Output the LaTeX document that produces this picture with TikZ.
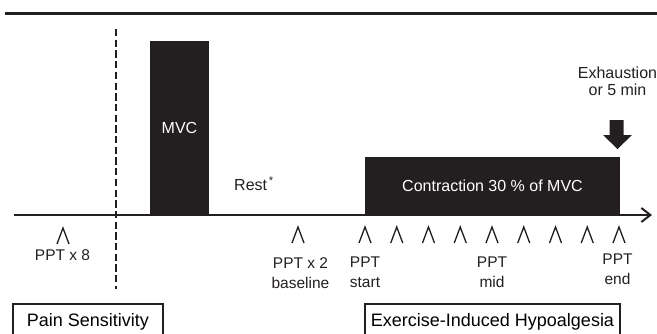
\documentclass[tikz,border=0pt]{standalone}
\usepackage{fontspec}
\setmainfont{Liberation Sans}
\usetikzlibrary{arrows.meta}

\definecolor{ink}{HTML}{231F20}

\def\base{215}
\def\gap{31.75}

\tikzset{
  block/.style = {fill=ink, text=white, inner sep=0pt, font=\fontsize{16}{18}\selectfont},
  phase/.style = {draw=ink, line width=2pt, inner sep=0pt, minimum height=36pt, font=\fontsize{18}{20}\selectfont},
  lbl/.style = {text=ink, inner sep=0pt, align=center, font=\fontsize{15.5}{20}\selectfont},
  caret/.style = {draw=ink, line width=1.3pt},
}

\begin{document}
\begin{tikzpicture}[x=1pt, y=-1pt]
  \useasboundingbox (0,0) rectangle (657,333);
  \clip (0,0) rectangle (657,333);

  % rule at the top
  \coordinate (r0) at (5,13);
  \coordinate (r1) at (657,13);
  \draw[ink, line width=3pt] (r0) -- (r1);

  % blocks
  \node[block, minimum width=59pt, minimum height=174pt] (mvc) at (179.5,128) {MVC};
  \node[block, minimum width=255pt, minimum height=58pt] (con) at (492.5,186) {Contraction 30 \% of MVC};
  \node[lbl, anchor=west, font=\fontsize{16}{18}\selectfont] (rest) at (234,184) {Rest\textsuperscript{\,*}};

  % time axis
  \coordinate (t0) at (14,\base);
  \coordinate (t1) at (652,\base);
  \draw[ink, line width=2pt, -{Straight Barb[length=9pt,width=14pt]}] (t0) -- (t1);

  % split
  \coordinate (d0) at (116,29);
  \coordinate (d1) at (116,289);
  \draw[ink, line width=2.6pt, dash pattern=on 7.3pt off 3.4pt] (d0) -- (d1);

  % end of contraction
  \node[lbl, anchor=north, font=\fontsize{16}{17}\selectfont] (exh) at (617.5,66.5) {Exhaustion\\or 5 min};
  \coordinate (stop) at (617.5,149);
  \fill[ink, shift={(stop)}] (-8,-29) -- (6,-29) -- (6,-14) -- (14.5,-14) -- (0,0) -- (-14.5,-14) -- (-8,-14) -- cycle;

  % pressure pain thresholds
  \coordinate (p8) at (63,228);
  \coordinate (pb) at (298,227);
  \foreach \i in {0,...,8}{
    \pgfmathparse{365+\i*\gap}
    \let\cx\pgfmathresult
    \coordinate (c\i) at (\cx,227);
    \draw[caret] ([shift={(-6,16)}]c\i) -- (c\i) -- ([shift={(6,16)}]c\i);
  }
  \foreach \c in {p8,pb}{
    \draw[caret] ([shift={(-6,16)}]\c) -- (\c) -- ([shift={(6,16)}]\c);
  }

  \node[lbl, anchor=north] (ppt8) at (62.5,249) {PPT x 8};
  \node[lbl, anchor=north] (pptb) at (300.5,257) {PPT x 2\\baseline};
  \node[lbl, anchor=north] (ppts) at (365,257) {PPT\\start};
  \node[lbl, anchor=north] (pptm) at (492,257) {PPT\\mid};
  \node[lbl, anchor=north] (ppte) at (617.5,253.5) {PPT\\end};

  % phases
  \node[phase, minimum width=150pt] (pain) at (88,321.5) {Pain Sensitivity};
  \node[phase, minimum width=255pt] (eih) at (492.5,321.5) {Exercise-Induced Hypoalgesia};
\end{tikzpicture}
\end{document}
